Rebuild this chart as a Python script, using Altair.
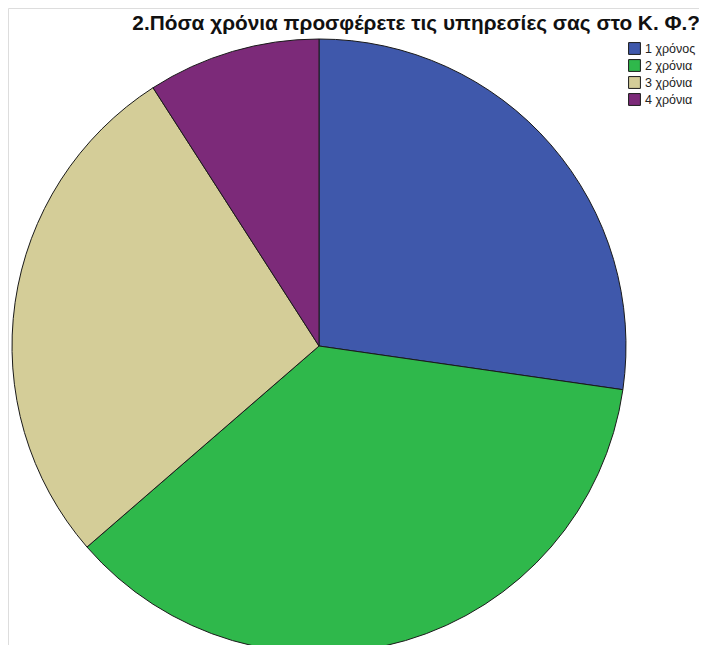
import altair as alt
import pandas as pd

categories = ["1 χρόνος", "2 χρόνια", "3 χρόνια", "4 χρόνια"]
counts = [3, 4, 3, 1]
colors = ["#3f58ab", "#2fb84b", "#d4cd98", "#7c2a79"]
title_text = "2.Πόσα χρόνια προσφέρετε τις υπηρεσίες σας στο Κ. Φ.?"

df = pd.DataFrame({"cat": categories, "n": counts, "ord": list(range(len(categories)))})

W, H = 691, 637
CX, CY, R = 311, 338, 307

pie = alt.Chart(df).mark_arc(stroke="#1a1a1a", strokeWidth=1, outerRadius=R).encode(
    theta=alt.Theta("n:Q", stack=True),
    order=alt.Order("ord:Q"),
    x=alt.value(CX),
    y=alt.value(CY),
    color=alt.Color(
        "cat:N",
        scale=alt.Scale(domain=categories, range=colors),
        legend=alt.Legend(
            title=None,
            orient="none",
            legendX=620,
            legendY=34,
            symbolType="square",
            symbolSize=140,
            symbolStrokeColor="#1a1a1a",
            symbolStrokeWidth=1,
            symbolOpacity=1,
            labelFont="Liberation Sans",
            labelFontSize=12.5,
            labelColor="#222222",
            labelOffset=4,
            rowPadding=0,
        ),
    ),
)

title = alt.Chart(pd.DataFrame({"t": [title_text]})).mark_text(
    font="Liberation Sans", fontSize=20.8, fontWeight="bold", align="right",
    baseline="alphabetic", color="#111111"
).encode(text="t:N", x=alt.value(692), y=alt.value(22))

chart = alt.layer(pie, title).properties(
    width=W, height=H, padding=0, autosize=alt.AutoSizeParams(type="none")
).configure_view(stroke=None).configure(background="transparent")

chart.save("out.html", embed_options={"renderer": "svg", "actions": False})
